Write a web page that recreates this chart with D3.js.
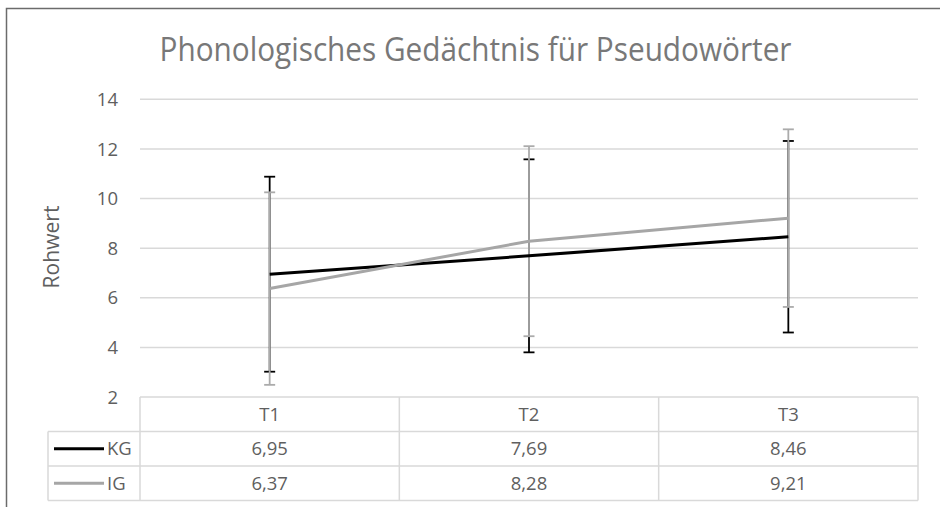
<!DOCTYPE html>
<html>
<head>
<meta charset="utf-8">
<script src="https://cdn.jsdelivr.net/npm/d3@7"></script>
<style>
  body { margin: 0; background: #fff; }
  svg text { font-family: "Open Sans", sans-serif; fill: #5f5f5f; }
</style>
</head>
<body>
<svg id="chart" width="940" height="507"></svg>
<script>
const title = "Phonologisches Gedächtnis für Pseudowörter";
const categories = ["T1", "T2", "T3"];
const seriesNames = ["KG", "IG"];
const kgValues = [6.95, 7.69, 8.46];
const igValues = [6.37, 8.28, 9.21];
const kgErrors = [3.93, 3.89, 3.86];
const igErrors = [3.88, 3.83, 3.58];
const yTicks = [2, 4, 6, 8, 10, 12, 14];

const series = [
  { name: seriesNames[0], values: kgValues, err: kgErrors, color: "#000000", errColor: "#000000" },
  { name: seriesNames[1], values: igValues, err: igErrors, color: "#a6a6a6", errColor: "#ababab" }
];

const svg = d3.select("#chart");
const fmt = d3.formatLocale({ decimal: ",", thousands: ".", grouping: [3], currency: ["", " €"] }).format(".2f");

const plotLeft = 140, plotRight = 918, plotTop = 99.3, plotBottom = 397;
const rowH = 34.5;
const tableLeft = 48;

const x = d3.scaleBand().domain(categories).range([plotLeft, plotRight]);
const cx = c => x(c) + x.bandwidth() / 2;
const y = d3.scaleLinear().domain([2, 14]).range([plotBottom, plotTop]);

// outer chart border (only top and left are in the frame)
svg.append("path")
  .attr("d", "M6.5,940 V8.5 H940")
  .attr("fill", "none")
  .attr("stroke", "#6b6b6b")
  .attr("stroke-width", 1.5);

// title
svg.append("text")
  .attr("x", 475.5)
  .attr("y", 61)
  .attr("text-anchor", "middle")
  .attr("font-size", 32)
  .attr("textLength", 632)
  .attr("lengthAdjust", "spacingAndGlyphs")
  .style("fill", "#787878")
  .text(title);

// gridlines
svg.append("g").selectAll("line")
  .data(yTicks.filter(d => d > 2))
  .join("line")
  .attr("x1", plotLeft).attr("x2", plotRight)
  .attr("y1", d => y(d)).attr("y2", d => y(d))
  .attr("stroke", "#d9d9d9")
  .attr("stroke-width", 1.5);

// y tick labels
svg.append("g").selectAll("text")
  .data(yTicks)
  .join("text")
  .attr("x", 118)
  .attr("y", d => y(d))
  .attr("dy", "0.36em")
  .attr("text-anchor", "end")
  .attr("font-size", 18.5)
  .text(d => d);

// y axis title
svg.append("text")
  .attr("transform", "translate(59,247) rotate(-90)")
  .attr("text-anchor", "middle")
  .attr("font-size", 21)
  .attr("textLength", 83)
  .attr("lengthAdjust", "spacing")
  .text("Rohwert");

// error bars
const capW = 11;
series.forEach(s => {
  const g = svg.append("g");
  categories.forEach((c, i) => {
    const hi = y(s.values[i] + s.err[i]);
    const lo = y(s.values[i] - s.err[i]);
    g.append("line")
      .attr("x1", cx(c)).attr("x2", cx(c))
      .attr("y1", hi).attr("y2", lo)
      .attr("stroke", s.errColor).attr("stroke-width", 1.8);
    [hi, lo].forEach(yy => {
      g.append("line")
        .attr("x1", cx(c) - capW / 2).attr("x2", cx(c) + capW / 2)
        .attr("y1", yy).attr("y2", yy)
        .attr("stroke", s.errColor).attr("stroke-width", 1.8);
    });
  });
});

// lines
const line = d3.line()
  .x((d, i) => cx(categories[i]))
  .y(d => y(d));

series.forEach(s => {
  svg.append("path")
    .datum(s.values)
    .attr("d", line)
    .attr("fill", "none")
    .attr("stroke", s.color)
    .attr("stroke-width", 3);
});

// data table
const table = svg.append("g");
const tableStroke = "#d9d9d9";
const colEdges = categories.map(c => x(c)).concat([plotRight]);

table.append("line")
  .attr("x1", plotLeft).attr("x2", plotRight)
  .attr("y1", plotBottom).attr("y2", plotBottom)
  .attr("stroke", tableStroke).attr("stroke-width", 1.5);
[1, 2, 3].forEach(r => {
  table.append("line")
    .attr("x1", tableLeft).attr("x2", plotRight)
    .attr("y1", plotBottom + r * rowH).attr("y2", plotBottom + r * rowH)
    .attr("stroke", tableStroke).attr("stroke-width", 1.5);
});
colEdges.forEach(xx => {
  table.append("line")
    .attr("x1", xx).attr("x2", xx)
    .attr("y1", plotBottom).attr("y2", plotBottom + 3 * rowH)
    .attr("stroke", tableStroke).attr("stroke-width", 1.5);
});
table.append("line")
  .attr("x1", tableLeft).attr("x2", tableLeft)
  .attr("y1", plotBottom + rowH).attr("y2", plotBottom + 3 * rowH)
  .attr("stroke", tableStroke).attr("stroke-width", 1.5);

// header row
table.selectAll(".hdr")
  .data(categories)
  .join("text")
  .attr("class", "hdr")
  .attr("x", d => cx(d))
  .attr("y", plotBottom + rowH / 2)
  .attr("dy", "0.36em")
  .attr("text-anchor", "middle")
  .attr("font-size", 18.5)
  .text(d => d);

// body rows with legend keys
series.forEach((s, r) => {
  const rowY = plotBottom + (r + 1) * rowH + rowH / 2;
  table.append("line")
    .attr("x1", 54).attr("x2", 104)
    .attr("y1", rowY).attr("y2", rowY)
    .attr("stroke", s.color).attr("stroke-width", 3);
  table.append("text")
    .attr("x", 107)
    .attr("y", rowY)
    .attr("dy", "0.36em")
    .attr("font-size", 18.5)
    .text(s.name);
  table.selectAll(".v" + r)
    .data(s.values)
    .join("text")
    .attr("class", "v" + r)
    .attr("x", (d, i) => cx(categories[i]))
    .attr("y", rowY)
    .attr("dy", "0.36em")
    .attr("text-anchor", "middle")
    .attr("font-size", 18.5)
    .text(d => fmt(d));
});
</script>
</body>
</html>
